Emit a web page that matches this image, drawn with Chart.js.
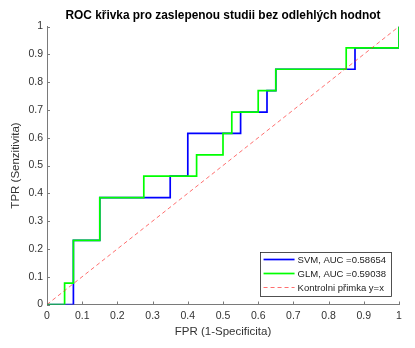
<!DOCTYPE html>
<html>
<head>
<meta charset="utf-8">
<title>ROC křivka</title>
<script src="https://cdn.jsdelivr.net/npm/chart.js@4.4.1/dist/chart.umd.min.js"></script>
<style>
  html, body { margin: 0; padding: 0; background: #fff; }
</style>
</head>
<body>
<canvas id="roc" width="415" height="348"></canvas>
<script>
/* ROC data (vertices of the step curves) */

const svmFpr = [0, 0.075, 0.075, 0.15, 0.15, 0.35, 0.35, 0.4, 0.4, 0.55, 0.55, 0.625, 0.625, 0.65, 0.65, 0.875, 0.875, 1, 1];
const svmTpr = [0, 0, 0.2308, 0.2308, 0.3846, 0.3846, 0.4615, 0.4615, 0.6154, 0.6154, 0.6923, 0.6923, 0.7692, 0.7692, 0.8462, 0.8462, 0.9231, 0.9231, 1];

const glmFpr = [0, 0.05, 0.05, 0.075, 0.075, 0.15, 0.15, 0.275, 0.275, 0.425, 0.425, 0.5, 0.5, 0.525, 0.525, 0.6, 0.6, 0.65, 0.65, 0.85, 0.85, 1, 1];
const glmTpr = [0, 0, 0.0769, 0.0769, 0.2308, 0.2308, 0.3846, 0.3846, 0.4615, 0.4615, 0.5385, 0.5385, 0.6154, 0.6154, 0.6923, 0.6923, 0.7692, 0.7692, 0.8462, 0.8462, 0.9231, 0.9231, 1];

const refX = [0, 1];
const refY = [0, 1];

const seriesLabels = ['SVM, AUC =0.58654', 'GLM, AUC =0.59038', 'Kontrolni přimka y=x'];
const chartTitle = 'ROC křivka pro zaslepenou studii bez odlehlých hodnot';

const tickValues = [0, 0.1, 0.2, 0.3, 0.4, 0.5, 0.6, 0.7, 0.8, 0.9, 1];
const tickLabels = ['0', '0.1', '0.2', '0.3', '0.4', '0.5', '0.6', '0.7', '0.8', '0.9', '1'];

const FONT = '"Liberation Sans", Arial, Helvetica, sans-serif';
const AXIS_COLOR = '#7a7a7a';
const TEXT_COLOR = '#333';

function toPoints(xs, ys) {
  return xs.map(function (x, i) { return { x: x, y: ys[i] }; });
}

// fixed tick positions for both axes
function setTicks(scale) {
  scale.ticks = tickValues.map(function (v) { return { value: v }; });
}

// title centred over the plot area, not the whole canvas
const axesTitle = {
  id: 'axesTitle',
  afterDraw(chart) {
    const ctx = chart.ctx;
    const area = chart.chartArea;
    ctx.save();
    ctx.font = 'bold 11.9px ' + FONT;
    ctx.fillStyle = '#000';
    ctx.textAlign = 'center';
    ctx.textBaseline = 'middle';
    ctx.fillText(chartTitle, (area.left + area.right) / 2, 16);
    ctx.restore();
  }
};

// matlab-like ticks pointing into the plot
const innerTicks = {
  id: 'innerTicks',
  beforeDatasetsDraw(chart) {
    const ctx = chart.ctx;
    const area = chart.chartArea;
    const xs = chart.scales.x;
    const ys = chart.scales.y;
    ctx.save();
    ctx.strokeStyle = AXIS_COLOR;
    ctx.lineWidth = 1;
    ctx.beginPath();
    xs.ticks.forEach(function (t) {
      const px = Math.round(xs.getPixelForValue(t.value)) + 0.5;
      ctx.moveTo(px, area.bottom);
      ctx.lineTo(px, area.bottom - 3);
    });
    ys.ticks.forEach(function (t) {
      const py = Math.round(ys.getPixelForValue(t.value)) + 0.5;
      ctx.moveTo(area.left, py);
      ctx.lineTo(area.left + 3, py);
    });
    ctx.stroke();
    ctx.restore();
  }
};

// boxed legend in the lower right corner
const boxLegend = {
  id: 'boxLegend',
  afterDatasetsDraw(chart) {
    const ctx = chart.ctx;
    const area = chart.chartArea;
    const sets = chart.data.datasets;
    ctx.save();
    ctx.font = '9.5px ' + FONT;
    let textW = 0;
    sets.forEach(function (ds) { textW = Math.max(textW, ctx.measureText(ds.label).width); });
    const lineLen = 31, rowH = 14;
    const boxW = 4 + lineLen + 3 + textW + 5;
    const boxH = rowH * sets.length + 2;
    const right = area.right - 8;
    const bottom = area.bottom - 9;
    const left = right - boxW;
    const top = bottom - boxH;

    ctx.fillStyle = '#fff';
    ctx.fillRect(left, top, boxW, boxH);
    ctx.strokeStyle = '#262626';
    ctx.lineWidth = 0.8;
    ctx.strokeRect(Math.round(left) + 0.5, Math.round(top) + 0.5, Math.round(boxW), Math.round(boxH));

    sets.forEach(function (ds, i) {
      const cy = top + 8 + i * rowH;
      ctx.beginPath();
      ctx.strokeStyle = ds.borderColor;
      ctx.lineWidth = ds.borderWidth;
      ctx.setLineDash(ds.borderDash || []);
      ctx.moveTo(left + 4, cy);
      ctx.lineTo(left + 4 + lineLen, cy);
      ctx.stroke();
      ctx.setLineDash([]);
      ctx.fillStyle = '#222';
      ctx.textBaseline = 'middle';
      ctx.fillText(ds.label, left + 4 + lineLen + 3, cy + 0.5);
    });
    ctx.restore();
  }
};

const ctx = document.getElementById('roc').getContext('2d');

const chart = new Chart(ctx, {
  type: 'scatter',
  data: {
    datasets: [{
      label: seriesLabels[0],
      data: toPoints(svmFpr, svmTpr),
      showLine: true,
      borderColor: '#0000ff',
      borderWidth: 1.7,
      pointRadius: 0,
      order: 3,
    },
    {
      label: seriesLabels[1],
      data: toPoints(glmFpr, glmTpr),
      showLine: true,
      borderColor: '#00ff00',
      borderWidth: 1.7,
      pointRadius: 0,
      order: 2,
    },
    {
      label: seriesLabels[2],
      data: toPoints(refX, refY),
      showLine: true,
      borderColor: 'rgba(255, 40, 40, 0.75)',
      borderWidth: 0.9,
      borderDash: [4, 3],
      pointRadius: 0,
      order: 1,
    }]
  },
  options: {
    responsive: false,
    animation: false,
    devicePixelRatio: 1,
    layout: { padding: { left: 0, right: 16, top: 26.5, bottom: 0 } },
    plugins: {
      legend: { display: false },
      tooltip: { enabled: false },
      title: { display: false }
    },
    scales: {
      x: {
        type: 'linear',
        min: 0,
        max: 1,
        afterBuildTicks: setTicks,
        afterFit: function (scale) { scale.height = 43.5; },
        grid: { display: false, drawTicks: false },
        border: { display: true, color: AXIS_COLOR, width: 1 },
        ticks: {
          color: TEXT_COLOR,
          padding: 5,
          maxRotation: 0,
          autoSkip: false,
          font: { family: FONT, size: 10.5 },
          callback: function (v, i) { return tickLabels[i]; },
        },
        title: {
          display: true,
          text: 'FPR (1-Specificita)',
          color: TEXT_COLOR,
          font: { family: FONT, size: 11.5, lineHeight: 1.2 },
          padding: { top: 0, bottom: 9.4 },
        }
      },
      y: {
        type: 'linear',
        min: 0,
        max: 1,
        afterBuildTicks: setTicks,
        afterFit: function (scale) { scale.width = 47; },
        grid: { display: false, drawTicks: false },
        border: { display: true, color: AXIS_COLOR, width: 1 },
        ticks: {
          color: TEXT_COLOR,
          padding: 4,
          autoSkip: false,
          font: { family: FONT, size: 10.5 },
          callback: function (v, i) { return tickLabels[i]; },
        },
        title: {
          display: true,
          text: 'TPR (Senzitivita)',
          color: TEXT_COLOR,
          font: { family: FONT, size: 11.5, lineHeight: 1.2 },
          padding: { top: 8.6, bottom: 0 },
        }
      }
    }
  },
  plugins: [axesTitle, innerTicks, boxLegend]
});
</script>
</body>
</html>
